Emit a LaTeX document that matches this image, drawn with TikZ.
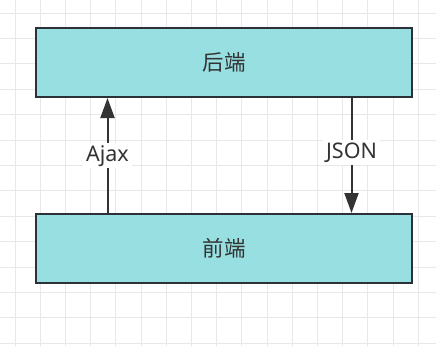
\documentclass[tikz,border=0pt]{standalone}
\usepackage{fontspec}
\setmainfont{Noto Sans}
\newfontfamily\cjk{Noto Sans CJK SC}
\usepackage{xcolor}
\usepackage{tikz}
\usetikzlibrary{arrows.meta,positioning}
\definecolor{tierfill}{HTML}{97DFE1}
\definecolor{tierline}{HTML}{2B3136}
\definecolor{inkgray}{HTML}{333333}
\definecolor{gridgray}{HTML}{E8E8E8}

\begin{document}
\begin{tikzpicture}[
  x=1pt,y=-1pt,
  every node/.style={font=\fontsize{21.5}{24}\selectfont,text=inkgray,align=center},
  tier/.style={draw=tierline,line width=2pt,fill=tierfill,minimum width=376pt,minimum height=69pt,inner sep=0pt},
  flow/.style={-{Triangle[length=20pt,width=14pt]},line width=2pt,draw=inkgray},
  lbl/.style={fill=white,inner sep=3pt,text height=15pt,text depth=4pt},
  gridline/.style={draw=gridgray,line width=1pt}
]
\useasboundingbox[fill=white] (0,0) rectangle (436,346);
% background grid
\foreach \gx in {0,...,16} \draw[gridline] (15+\gx*25.2,0) -- (15+\gx*25.2,346);
\foreach \gy in {0,...,13} \draw[gridline] (0,13+\gy*25.4) -- (436,13+\gy*25.4);

\node[tier] (backend) at (224,62.5) {\cjk 后端};
\node[tier,below=115pt of backend] (frontend) {\cjk 前端};

\draw[flow] ([xshift=-116.5pt]frontend.north) -- node[lbl] {Ajax} ([xshift=-116.5pt]backend.south);
\draw[flow] ([xshift=127.5pt]backend.south) -- node[lbl,yshift=3pt] {JSON} ([xshift=127.5pt]frontend.north);
\end{tikzpicture}
\end{document}
